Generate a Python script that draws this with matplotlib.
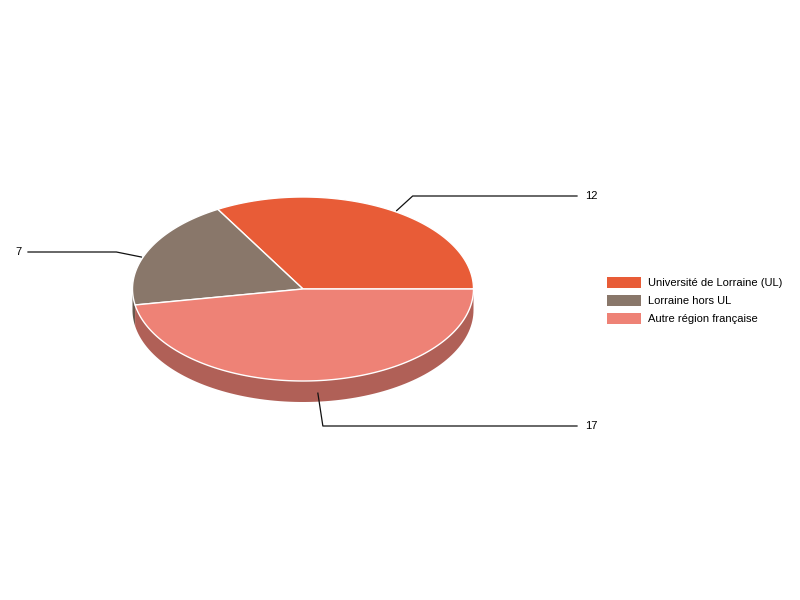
import numpy as np
import matplotlib.pyplot as plt
from matplotlib.patches import Polygon, Rectangle

plt.rcParams['font.family'] = ['Liberation Sans', 'DejaVu Sans']

labels = ["Université de Lorraine (UL)", "Lorraine hors UL", "Autre région française"]
values = [12, 7, 17]
colors = ["#e85c37", "#89776a", "#ee8276"]

# layout in pixel coordinates
cx, cy = 303, 289
rx, ry = 170.5, 92
depth = 21
shade = 0.74


def ell(t):
    t = np.radians(t)
    return cx + rx * np.cos(t), cy - ry * np.sin(t)


def darker(c, f):
    c = c.lstrip("#")
    r, g, b = (int(c[i:i + 2], 16) / 255 for i in (0, 2, 4))
    return (r * f, g * f, b * f)


fig = plt.figure(figsize=(8, 6), dpi=100)
ax = fig.add_axes([0, 0, 1, 1])
ax.set_xlim(0, 800)
ax.set_ylim(600, 0)
ax.axis("off")

total = sum(values)
bounds = np.concatenate([[0], np.cumsum(values) / total * 360])

# front side walls (angles 180..360)
for i, c in enumerate(colors):
    a, b = max(bounds[i], 180), min(bounds[i + 1], 360)
    if b <= a:
        continue
    t = np.linspace(a, b, 100)
    x, y = ell(t)
    pts = np.column_stack([np.r_[x, x[::-1]], np.r_[y, y[::-1] + depth]])
    ax.add_patch(Polygon(pts, closed=True, facecolor=darker(c, shade),
                         edgecolor="none", zorder=1))

# top faces
for i, c in enumerate(colors):
    t = np.linspace(bounds[i], bounds[i + 1], 200)
    x, y = ell(t)
    pts = np.column_stack([np.r_[cx, x], np.r_[cy, y]])
    ax.add_patch(Polygon(pts, closed=True, facecolor=c, edgecolor="white",
                         linewidth=1, joinstyle="round", zorder=2))

# value labels with leader lines
label_y = [196, 252, 426]
angle_nudge = [-3, 5, 0]
elbow_dx = [16, -25, 5]
for i, v in enumerate(values):
    m = (bounds[i] + bounds[i + 1]) / 2 + angle_nudge[i]
    sx, sy = ell(m)
    if np.sin(np.radians(m)) < 0:
        sy += depth / 2 + 2
    else:
        sx += 1.5 * np.cos(np.radians(m))
        sy -= 1.5 * np.sin(np.radians(m))
    if np.cos(np.radians(m)) >= 0:
        ex, tx, ha = 577, 585, "left"
    else:
        ex, tx, ha = 28, 22, "right"
    bx = sx + elbow_dx[i]
    ax.plot([sx, bx, ex], [sy, label_y[i], label_y[i]], color="#111111",
            linewidth=0.9, zorder=3)
    ax.text(tx, label_y[i], str(v), ha=ha, va="center", fontsize=8,
            color="#000000")

# legend
for i, (lab, c) in enumerate(zip(labels, colors)):
    y0 = 277 + i * 18.2
    ax.add_patch(Rectangle((607, y0), 34, 10.5, facecolor=c, edgecolor="none"))
    ax.text(648, y0 + 5.5, lab, ha="left", va="center", fontsize=8,
            color="#000000")

fig.savefig("out.png", dpi=100)
